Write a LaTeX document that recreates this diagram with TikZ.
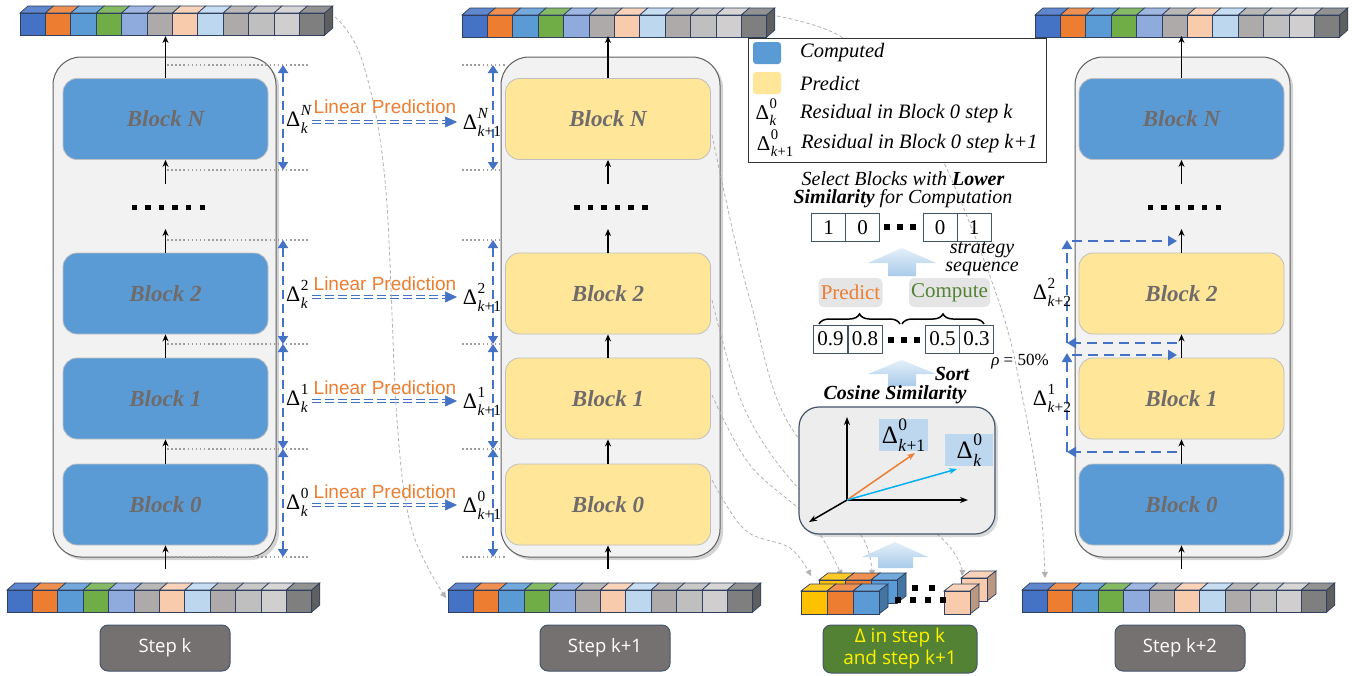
\documentclass[tikz,border=0pt]{standalone}
\usepackage{fontspec}
\setmainfont{Liberation Serif}
\newfontfamily\lsans{Liberation Sans}
\newfontfamily\osans{Open Sans}
\usetikzlibrary{arrows.meta,shadows,decorations.pathreplacing,calc}
\definecolor{cblue}{HTML}{5B9BD5}
\definecolor{cyel}{HTML}{FFE699}
\definecolor{dblue}{HTML}{4472C4}
\definecolor{corange}{HTML}{ED7D31}
\definecolor{cgreen}{HTML}{70AD47}
\definecolor{cbl2}{HTML}{8FAADC}
\definecolor{cgr1}{HTML}{AEAAAA}
\definecolor{cpeach}{HTML}{F8CBAD}
\definecolor{clb}{HTML}{BDD7EE}
\definecolor{cgr2}{HTML}{BFBFBF}
\definecolor{cgr3}{HTML}{D0CECE}
\definecolor{cgr4}{HTML}{7F7F7F}
\definecolor{edgec}{HTML}{2F4060}
\definecolor{lblgray}{HTML}{6F6B6B}
\definecolor{stepgray}{HTML}{767171}
\definecolor{boxedge}{HTML}{44546A}
\definecolor{dgreen}{HTML}{548235}
\definecolor{vblue}{HTML}{00B0F0}
\definecolor{cgold}{HTML}{FFC000}
\definecolor{arrlight}{HTML}{E4EFF9}
\definecolor{arrdark}{HTML}{A9CBEA}

\newcommand{\dsym}[2]{Δ\kern0.5pt\raisebox{0.52em}{\makebox[0pt][l]{\scalebox{0.7}{#2}}}\raisebox{-0.3em}{\scalebox{0.7}{#1}}}

\newcommand{\tokstrip}[2]{%
 \foreach \c [count=\i from 0] in {dblue,corange,cblue,cgreen,cbl2,cgr1,cpeach,clb,cgr1,cgr2,cgr3,cgr4}{
   \pgfmathsetmacro\xa{#1+\i*25.4}
   \pgfmathsetmacro\xb{\xa+25.4}
   \filldraw[draw=edgec, line width=0.7pt, fill=\c!85!white] (\xa,#2) -- (\xa+8,#2-7) -- (\xb+8,#2-7) -- (\xb,#2) -- cycle;
   \filldraw[draw=edgec, line width=0.7pt, fill=\c] (\xa,#2) rectangle (\xb,#2+22);
 }
 \filldraw[draw=edgec, line width=0.7pt, fill=cgr4!75!black] (#1+304.8,#2) -- (#1+312.8,#2-7) -- (#1+312.8,#2+15) -- (#1+304.8,#2+22) -- cycle;
}
\newcommand{\onecube}[5]{%
 \filldraw[draw=edgec, line width=0.7pt, fill=#5!85!white] (#1,#2) -- (#1+9,#2-7) -- (#1+#3+9,#2-7) -- (#1+#3,#2) -- cycle;
 \filldraw[draw=edgec, line width=0.7pt, fill=#5!75!black] (#1+#3,#2) -- (#1+#3+9,#2-7) -- (#1+#3+9,#2+#4-7) -- (#1+#3,#2+#4) -- cycle;
 \filldraw[draw=edgec, line width=0.7pt, fill=#5] (#1,#2) rectangle (#1+#3,#2+#4);
}

\begin{document}
\begin{tikzpicture}[x=1pt,y=-1pt,
  outerbox/.style={draw=gray!75!black, line width=1pt, fill=black!5, rounded corners=28pt,
     drop shadow={shadow xshift=3pt, shadow yshift=-3pt, opacity=0.35}},
  blk/.style={draw=gray!50, line width=0.8pt, rounded corners=14pt, minimum width=205pt,
     minimum height=81pt, font=\fontsize{23}{26}\selectfont\bfseries\itshape, text=lblgray},
  arr/.style={-{Stealth[length=7pt,width=6pt]}, line width=1.4pt},
  dotln/.style={gray!75, line width=1.1pt, dash pattern=on 1.5pt off 2.6pt},
  dashv/.style={dblue, line width=2.4pt, dash pattern=on 9pt off 5pt,
     {Triangle[length=8pt,width=10pt]}-{Triangle[length=8pt,width=10pt]}},
  dash3/.style={dblue, line width=2.4pt, dash pattern=on 10pt off 6pt, -{Triangle[length=9pt,width=10pt]}},
  dblln/.style={draw=dblue, double=white, double distance=1.6pt, line width=1.5pt, dash pattern=on 9pt off 4pt},
  tipst/.style={dblue, line width=0.5pt, -{Triangle[length=12pt,width=11pt]}},
  dlab/.style={font=\fontsize{22}{22}\selectfont, inner sep=0pt},
  lp/.style={font=\lsans\fontsize{19}{22}\selectfont, text=corange, inner sep=0pt},
  gcurve/.style={gray!60, line width=0.8pt, dash pattern=on 3.5pt off 2.5pt, -{Triangle[length=6pt,width=6pt]}},
  nbox/.style={draw=boxedge, line width=1pt, minimum width=34pt, minimum height=28pt, inner sep=0pt, font=\fontsize{21}{22}\selectfont},
  stepbox/.style={fill=stepgray, draw=boxedge, line width=1pt, rounded corners=8pt, minimum width=130pt,
     minimum height=46pt, text=white, font=\osans\fontsize{18.5}{20}\selectfont},
  legt/.style={anchor=west, inner sep=0pt, font=\itshape\fontsize{20.5}{22}\selectfont},
  bigarr/.style={top color=arrlight, bottom color=arrdark, draw=none}
]
\useasboundingbox (0,0) rectangle (1367,675);

% ---------- token strips ----------
\tokstrip{20}{13}
\tokstrip{462}{15}
\tokstrip{1035}{15}
\tokstrip{7}{590}
\tokstrip{448}{590}
\tokstrip{1022}{590}

% ---------- dotted guide lines of column 2 (under box) ----------
\foreach \yy in {65,170,240,344,449,557} \draw[dotln] (462,\yy) -- (505,\yy);

% ---------- column 1 ----------
\node[outerbox, minimum width=223pt, minimum height=500pt] (o1) at (164.5,307) {};
\node[blk, fill=cblue] (aN) at (165.5,119) {Block N};
\node[blk, fill=cblue] (a2) at (165.5,293.5) {Block 2};
\node[blk, fill=cblue] (a1) at (165.5,398.5) {Block 1};
\node[blk, fill=cblue] (a0) at (165.5,504.5) {Block 0};
% ---------- column 2 ----------
\node[outerbox, minimum width=219pt, minimum height=500pt] (o2) at (610.5,307) {};
\node[blk, fill=cyel] (bN) at (608,119) {Block N};
\node[blk, fill=cyel] (b2) at (608,293.5) {Block 2};
\node[blk, fill=cyel] (b1) at (608,398.5) {Block 1};
\node[blk, fill=cyel] (b0) at (608,504.5) {Block 0};
% ---------- column 3 ----------
\node[outerbox, minimum width=215pt, minimum height=500pt] (o3) at (1182.5,307) {};
\node[blk, fill=cblue] (cN) at (1181.5,119) {Block N};
\node[blk, fill=cyel] (c2) at (1181.5,293.5) {Block 2};
\node[blk, fill=cyel] (c1) at (1181.5,398.5) {Block 1};
\node[blk, fill=cblue] (c0) at (1181.5,504.5) {Block 0};

% black arrows and dots
\foreach \col/\cx in {a/165.5,b/608,c/1181.5}{
  \coordinate (\col top) at (\cx,36);
  \coordinate (\col d1) at (\cx,184);
  \coordinate (\col d2) at (\cx,229);
  \coordinate (\col bot) at (\cx,569);
  \draw[arr] (\col N.north) -- (\col top);
  \draw[arr] (\col d1) -- (\col N.south);
  \draw[arr] (\col 2.north) -- (\col d2);
  \draw[arr] (\col 1.north) -- (\col 2.south);
  \draw[arr] (\col 0.north) -- (\col 1.south);
  \draw[arr] (\col bot) -- (\col 0.south);
  \foreach \k in {0,...,5} \fill (\cx-34+\k*13.6,204.5) rectangle ++(5.5,5.5);
}

% dotted guide lines of column 1
\foreach \yy in {65,170,240,344,449,557} \draw[dotln] (167,\yy) -- (310,\yy);

% vertical dashed residual arrows
\foreach \xx/\nm in {283/L,493/R}{
  \foreach \ya/\yb/\s in {65/170/N,240/344/2,344/449/1,449/557/0}{
    \coordinate (\nm t\s) at (\xx,\ya);
    \coordinate (\nm b\s) at (\xx,\yb);
    \draw[dashv] (\nm t\s) -- (\nm b\s);
  }
}

% linear prediction rows
\foreach \r/\sp/\lt/\ya in {N/\textit{N}/107/122, 2/2/284/297, 1/1/388/401, 0/0/492/505}{
  \node[dlab] (dk\r) at (297,\ya-3) {\dsym{\textit{k}}{\sp}};
  \node[dlab] (dq\r) at (482,\ya) {\dsym{\textit{k}+1}{\sp}};
  \node[lp] (lp\r) at (385,\lt) {Linear Prediction};
  \coordinate (ls\r) at (312,\ya);
  \coordinate (le\r) at (445,\ya);
  \coordinate (lt\r) at (457,\ya);
  \draw[dblln] (ls\r) -- (le\r);
  \draw[tipst] (le\r) -- (lt\r);
}

% ---------- gray dashed curves ----------
\draw[gcurve] plot[smooth, tension=0.6] coordinates {(335,17) (362,60) (385,180) (397,420) (412,530) (446,598)};
\draw[gcurve] plot[smooth, tension=0.6] coordinates {(777,16) (840,36) (900,90) (945,165) (1000,305) (1023,400) (1040,500) (1045,578)};
\draw[gcurve] plot[smooth, tension=0.6] coordinates {(712,480) (745,530) (790,548) (811,576)};
\draw[gcurve] plot[smooth, tension=0.6] coordinates {(712,395) (750,465) (810,520) (842,576)};
\draw[gcurve] plot[smooth, tension=0.6] coordinates {(712,300) (745,410) (800,490) (860,534) (872,576)};
\draw[gcurve] plot[smooth, tension=0.6] coordinates {(712,135) (750,300) (800,440) (937,534) (962,576)};

% ---------- legend ----------
\node[draw=black!80, line width=1pt, fill=white, minimum width=298pt, minimum height=124pt, inner sep=0pt] (leg) at (897,100) {};
\node[fill=cblue, rounded corners=3pt, minimum width=28pt, minimum height=22pt] (sw1) at (767,53) {};
\node[fill=cyel, rounded corners=3pt, minimum width=28pt, minimum height=22pt] (sw2) at (767,83) {};
\node[legt] (lg1) at (800,53) {Computed};
\node[legt] (lg2) at (800,83) {Predict};
\node[dlab, font=\fontsize{21}{22}\selectfont] (lg3d) at (766,112) {\dsym{\textit{k}}{0}};
\node[legt] (lg3) at (800,114) {Residual in Block 0 step k};
\node[dlab, font=\fontsize{21}{22}\selectfont] (lg4d) at (775,143) {\dsym{\textit{k}+1}{0}};
\node[legt] (lg4) at (801,144) {Residual in Block 0 step k+1};

% ---------- selection pipeline ----------
\node[align=center, font=\itshape\fontsize{20}{18}\selectfont, inner sep=0pt] (seltxt) at (903,190)
  {Select Blocks with \textbf{Lower}\\\textbf{Similarity} for Computation};
\node[nbox] (s1) at (828.5,227.5) {1};
\node[nbox] (s2) at (862.5,227.5) {0};
\node[nbox] (s3) at (940,227.5) {0};
\node[nbox] (s4) at (974,227.5) {1};
\foreach \k in {0,1,2} \fill (884+\k*13,224) rectangle ++(6,6);
\node[align=center, font=\itshape\fontsize{20}{18}\selectfont, inner sep=0pt] (strat) at (982,259) {strategy\\sequence};

\shade[bigarr] (868,263) -- (902,248) -- (936,263) -- (916,263) -- (916,276) -- (888,276) -- (888,263) -- cycle;

\node[fill=black!10, rounded corners=5pt, minimum width=64pt, minimum height=29pt, inner sep=1pt, text=corange, font=\fontsize{21}{22}\selectfont] (pr) at (850.5,292.5) {Predict};
\node[fill=black!10, rounded corners=5pt, minimum width=81pt, minimum height=29pt, inner sep=1pt, text=dgreen, font=\fontsize{21}{22}\selectfont] (cp) at (949.5,292.5) {Compute};
\draw[decorate, decoration={brace, amplitude=10pt}, line width=1.5pt] (819,324) -- (900,324);
\draw[decorate, decoration={brace, amplitude=10pt}, line width=1.5pt] (902,324) -- (984,324);

\node[nbox] (n1) at (830.5,339) {0.9};
\node[nbox] (n2) at (865,339) {0.8};
\node[nbox] (n3) at (942.5,339) {0.5};
\node[nbox] (n4) at (976.5,339) {0.3};
\foreach \k in {0,1,2} \fill (888+\k*13,337) rectangle ++(6,6);
\node[font=\fontsize{17}{18}\selectfont, inner sep=0pt] (rho) at (1020,362) {\textit{ρ} = 50\%};

\shade[bigarr] (868,374) -- (902,360) -- (936,374) -- (916,374) -- (916,386) -- (888,386) -- (888,374) -- cycle;
\node[font=\bfseries\itshape\fontsize{20}{22}\selectfont, inner sep=0pt] (sort) at (952,374) {Sort};
\node[font=\bfseries\itshape\fontsize{20}{22}\selectfont, inner sep=0pt] (cossim) at (895,395) {Cosine Similarity};

% cosine box
\node[draw=boxedge, line width=1.2pt, fill=black!7, rounded corners=20pt, minimum width=196pt, minimum height=127pt,
   drop shadow={shadow xshift=3pt, shadow yshift=-3pt, opacity=0.3}] (cos) at (897,470.5) {};
\coordinate (O) at (847,500);
\coordinate (ax1) at (847,417);
\coordinate (ax2) at (968,500);
\coordinate (ax3) at (809,522);
\draw[-{Stealth[length=8pt,width=6pt]}, line width=1.5pt] (O) -- (ax1);
\draw[-{Stealth[length=8pt,width=6pt]}, line width=1.5pt] (O) -- (ax2);
\draw[-{Stealth[length=8pt,width=6pt]}, line width=1.5pt] (O) -- (ax3);
\node[fill=clb, minimum width=49pt, minimum height=28pt, inner sep=0pt, font=\fontsize{25}{22}\selectfont] (vk1) at (903.5,435) {\dsym{\textit{k}+1}{0}};
\node[fill=clb, minimum width=48pt, minimum height=28pt, inner sep=0pt, font=\fontsize{25}{22}\selectfont] (vk) at (969,450) {\dsym{\textit{k}}{0}};
\coordinate (vo) at (915,453);
\coordinate (vb) at (957,469);
\draw[-{Stealth[length=8pt,width=6pt]}, line width=1.5pt, corange] (O) -- (vo);
\draw[-{Stealth[length=8pt,width=6pt]}, line width=1.5pt, vblue] (O) -- (vb);

\shade[bigarr] (862,557) -- (895,542) -- (928,557) -- (913,557) -- (913,568) -- (878,568) -- (878,557) -- cycle;

% cubes of residuals
\onecube{819}{580}{26}{23}{cgold}
\onecube{845}{580}{26}{23}{corange}
\onecube{871}{580}{26}{23}{cblue}
\onecube{801}{591}{26}{23}{cgold}
\onecube{827}{591}{26}{23}{corange}
\onecube{853}{591}{26}{23}{cblue}
\onecube{961}{578}{26}{23}{cpeach}
\onecube{944}{591}{26}{23}{cpeach}
\foreach \xx in {912,929} \fill (\xx,585) rectangle ++(6,6);
\foreach \xx in {895,910,925,940} \fill (\xx,597) rectangle ++(6,6);

% col3 residual arrows
\coordinate (r1s) at (1177,452);
\coordinate (r1c) at (1067,452);
\coordinate (r1u) at (1067,353);
\coordinate (r1h) at (1072,355);
\coordinate (r1e) at (1177,355);
\coordinate (r2s) at (1177,343);
\coordinate (r2c) at (1067,343);
\coordinate (r2u) at (1067,240);
\coordinate (r2h) at (1072,241);
\coordinate (r2e) at (1177,241);
\draw[dash3] (r1s) -- (r1c);
\draw[dash3] (r1c) -- (r1u);
\draw[dash3] (r1h) -- (r1e);
\draw[dash3] (r2s) -- (r2c);
\draw[dash3] (r2c) -- (r2u);
\draw[dash3] (r2h) -- (r2e);
\node[dlab] (d2k2) at (1052,292) {\dsym{\textit{k}+2}{2}};
\node[dlab] (d1k2) at (1052,398) {\dsym{\textit{k}+2}{1}};

% step labels
\node[stepbox] (st1) at (165,648) {Step k};
\node[stepbox] (st2) at (605,648) {Step k+1};
\node[stepbox] (st3) at (1180,648) {Step k+2};
\node[fill=dgreen, draw=boxedge, line width=1pt, rounded corners=8pt, minimum width=154pt, minimum height=48pt, inner sep=1pt,
   text=yellow, align=center, font=\osans\fontsize{19}{22}\selectfont] (dbox) at (900,649) {Δ in step k\\and step k+1};
\end{tikzpicture}
\end{document}
